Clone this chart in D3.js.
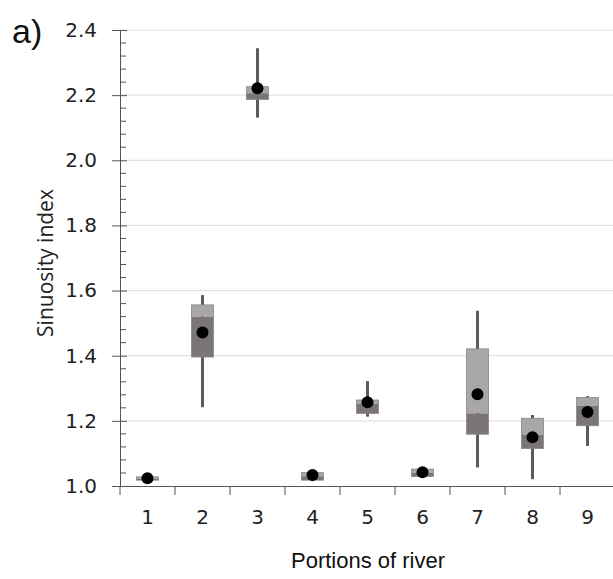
<!DOCTYPE html>
<html><head><meta charset="utf-8">
<script src="https://cdn.jsdelivr.net/npm/d3@7"></script>
<style>body{margin:0;background:#fff}svg{display:block}</style>
</head><body>
<svg id="c" width="613" height="579"></svg>
<script>
const categories = ["1","2","3","4","5","6","7","8","9"];
const whiskerMin = [1.015, 1.242, 2.131, 1.015, 1.213, 1.025, 1.057, 1.021, 1.123];
const q1        = [1.018, 1.396, 2.187, 1.018, 1.223, 1.029, 1.159, 1.115, 1.185];
const median    = [1.022, 1.520, 2.206, 1.030, 1.252, 1.040, 1.223, 1.157, 1.246];
const q3        = [1.028, 1.556, 2.226, 1.041, 1.264, 1.052, 1.421, 1.208, 1.272];
const whiskerMax= [1.030, 1.586, 2.344, 1.041, 1.322, 1.052, 1.538, 1.218, 1.276];
const means     = [1.024, 1.471, 2.221, 1.034, 1.257, 1.042, 1.282, 1.150, 1.227];
const yTicks = [1.0, 1.2, 1.4, 1.6, 1.8, 2.0, 2.2, 2.4];

(function(){
const svg = d3.select("#c");
const mLeft = 120, mRight = 615, mTop = 30, mBottom = 486;
const x = d3.scaleBand().domain(categories).range([mLeft, mRight]).paddingInner(0).paddingOuter(0);
const y = d3.scaleLinear().domain([1.0, 2.4]).range([mBottom, mTop]);
const tickFont = "DejaVu Sans, sans-serif";

// gridlines
svg.append("g").selectAll("line").data(yTicks.filter(d => d > 1.0)).join("line")
  .attr("x1", mLeft).attr("x2", 613).attr("y1", d => y(d)).attr("y2", d => y(d))
  .attr("stroke", "#e3e3e3").attr("stroke-width", 1.2);

// minor ticks
const minor = d3.range(1.04, 2.4, 0.04).filter(v => Math.abs(Math.round(v * 5) - v * 5) > 1e-6);
svg.append("g").selectAll("line").data(minor).join("line")
  .attr("x1", mLeft).attr("x2", mLeft + 6).attr("y1", d => y(d)).attr("y2", d => y(d))
  .attr("stroke", "#555").attr("stroke-width", 1);

// y axis
const yAxis = d3.axisLeft(y).tickValues(yTicks).tickFormat(d3.format(".1f")).tickSizeInner(8).tickSizeOuter(0).tickPadding(15);
const ya = svg.append("g").attr("transform", `translate(${mLeft},0)`).call(yAxis);
ya.select(".domain").attr("stroke", "#555");
ya.selectAll(".tick line").attr("stroke", "#555").attr("x2", -8).attr("x1", 7);
ya.selectAll(".tick text").attr("font-family", tickFont).attr("font-size", 20).attr("fill", "#222");

// x axis
const xa = svg.append("g").attr("transform", `translate(0,${mBottom})`)
  .call(d3.axisBottom(x).tickSize(0).tickPadding(24));
xa.select(".domain").attr("stroke", "#555").attr("stroke-width", 1.2);
xa.selectAll(".tick text").attr("font-family", tickFont).attr("font-size", 20).attr("fill", "#222");
svg.append("g").selectAll("line").data(categories).join("line")
  .attr("x1", d => x(d)).attr("x2", d => x(d)).attr("y1", mBottom).attr("y2", mBottom + 9)
  .attr("stroke", "#555").attr("stroke-width", 1);

const bw = 22;
const g = svg.append("g");
categories.forEach((c, i) => {
  const cx = x(c) + x.bandwidth() / 2;
  g.append("line").attr("x1", cx).attr("x2", cx).attr("y1", y(whiskerMin[i])).attr("y2", y(whiskerMax[i]))
    .attr("stroke", "#5b5b5b").attr("stroke-width", 3);
  g.append("rect").attr("x", cx - bw / 2).attr("width", bw)
    .attr("y", y(q3[i])).attr("height", Math.max(1, y(median[i]) - y(q3[i])))
    .attr("fill", "#a8a6a6");
  g.append("rect").attr("x", cx - bw / 2).attr("width", bw)
    .attr("y", y(median[i])).attr("height", Math.max(1, y(q1[i]) - y(median[i])))
    .attr("fill", "#7b7575");
  g.append("rect").attr("x", cx - bw / 2).attr("width", bw)
    .attr("y", y(q3[i])).attr("height", Math.max(1, y(q1[i]) - y(q3[i])))
    .attr("fill", "none").attr("stroke", "#8a8686").attr("stroke-width", 0.8);
  g.append("circle").attr("cx", cx).attr("cy", y(means[i])).attr("r", 6).attr("fill", "#000");
});

// labels
svg.append("text").attr("x", 368).attr("y", 568).attr("text-anchor", "middle")
  .attr("font-family", "Liberation Sans, Arial, sans-serif").attr("font-size", 22).attr("fill", "#111")
  .text("Portions of river");
svg.append("text").attr("transform", "translate(53,263) rotate(-90)").attr("text-anchor", "middle")
  .attr("font-family", "Open Sans, sans-serif").attr("font-size", 21).attr("fill", "#222")
  .text("Sinuosity index");
svg.append("text").attr("x", 12).attr("y", 43)
  .attr("font-family", "Liberation Sans, Arial, sans-serif").attr("font-size", 34).attr("fill", "#111")
  .text("a)");
})();
</script>
</body></html>
